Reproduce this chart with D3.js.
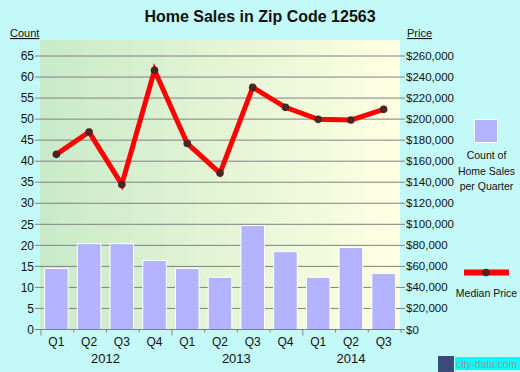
<!DOCTYPE html>
<html><head><meta charset="utf-8">
<script src="https://cdn.jsdelivr.net/npm/d3@7"></script>
<style>
body{margin:0;background:#c4f9f9;}
svg{display:block;font-family:Arial,"Liberation Sans",sans-serif;}
</style></head>
<body><svg id="c" width="520" height="372"></svg>
<script>
const quarters = ["Q1","Q2","Q3","Q4","Q1","Q2","Q3","Q4","Q1","Q2","Q3"];
const years = [{label:"2012", start:0, n:4},{label:"2013", start:4, n:4},{label:"2014", start:8, n:3}];
const counts = [14.5, 20.4, 20.4, 16.4, 14.5, 12.4, 24.7, 18.5, 12.4, 19.5, 13.3];
const prices = [166500, 187700, 137900, 246400, 176900, 148700, 230200, 211200, 199800, 199100, 209300];
const countTicks = [0,5,10,15,20,25,30,35,40,45,50,55,60,65];
const priceTicks = [0,20000,40000,60000,80000,100000,120000,140000,160000,180000,200000,220000,240000,260000];

const svg = d3.select("#c");
const L = 40, R = 400, T = 40, B = 329.5, Ytop = 56;

const defs = svg.append("defs");
const g = defs.append("linearGradient").attr("id","bg").attr("x1","0").attr("x2","1").attr("y1","0").attr("y2","0");
g.append("stop").attr("offset","0").attr("stop-color","#c8eac8");
g.append("stop").attr("offset","1").attr("stop-color","#ffffe2");

svg.append("rect").attr("x",L).attr("y",T).attr("width",R-L).attr("height",B-T).attr("fill","url(#bg)");

const x = d3.scaleBand().domain(d3.range(quarters.length)).range([L,R]).paddingInner(0.28).paddingOuter(0.14);
const y = d3.scaleLinear().domain([0,65]).range([B,Ytop]);
const yp = d3.scaleLinear().domain([0,260000]).range([B,Ytop]);

// grid
svg.append("g").selectAll("line").data(countTicks).join("line")
  .attr("x1",35).attr("x2",405).attr("y1",d=>y(d)).attr("y2",d=>y(d))
  .attr("stroke","#808080").attr("stroke-width",1);

// left axis labels
svg.append("g").selectAll("text").data(countTicks).join("text")
  .attr("x",34).attr("y",d=>y(d)).attr("dy","0.35em").attr("text-anchor","end")
  .attr("font-size",12).attr("fill","#111").text(d=>d);
// right axis labels
svg.append("g").selectAll("text").data(priceTicks).join("text")
  .attr("x",406).attr("y",d=>yp(d)).attr("dy","0.35em").attr("text-anchor","start")
  .attr("font-size",11.5).attr("fill","#111").text(d=>"$"+d3.format(",")(d));

// bars
svg.append("g").selectAll("rect").data(counts).join("rect")
  .attr("x",(d,i)=>x(i)).attr("width",x.bandwidth())
  .attr("y",d=>y(d)).attr("height",d=>B-y(d))
  .attr("fill","#b3b3ff").attr("stroke","#fff").attr("stroke-width",1);

// bottom axis
const bounds = d3.range(quarters.length+1).map(i=> L + i*(R-L)/quarters.length);
svg.append("line").attr("x1",L).attr("x2",R+5).attr("y1",B).attr("y2",B).attr("stroke","#808080");
svg.append("g").selectAll("line").data(bounds).join("line")
  .attr("x1",d=>d+1).attr("x2",d=>d+1).attr("y1",B)
  .attr("y2",(d,i)=> (i%4===0)?B+6:B+3)
  .attr("stroke","#808080");
svg.append("g").selectAll("text").data(quarters).join("text")
  .attr("x",(d,i)=>x(i)+x.bandwidth()/2).attr("y",346)
  .attr("text-anchor","middle").attr("font-size",12).attr("fill","#111").text(d=>d);
svg.append("g").selectAll("text").data(years).join("text")
  .attr("x",d=>(bounds[d.start]+bounds[d.start+d.n])/2).attr("y",363)
  .attr("text-anchor","middle").attr("font-size",13).attr("fill","#111").text(d=>d.label);

// line
const line = d3.line().x((d,i)=>x(i)+x.bandwidth()/2).y(d=>yp(d));
svg.append("path").datum(prices).attr("d",line).attr("fill","none")
  .attr("stroke","#ff0000").attr("stroke-width",5).attr("stroke-linejoin","miter");
svg.append("g").selectAll("circle").data(prices).join("circle")
  .attr("cx",(d,i)=>x(i)+x.bandwidth()/2).attr("cy",d=>yp(d)).attr("r",3.8).attr("fill","#4d2424");

// title
svg.append("text").attr("x",260).attr("y",22).attr("text-anchor","middle")
  .attr("font-size",16).attr("font-weight","bold").attr("fill","#111").text("Home Sales in Zip Code 12563");
svg.append("text").attr("x",10).attr("y",37).attr("font-size",11).attr("fill","#111")
  .attr("text-decoration","underline").text("Count");
svg.append("text").attr("x",407).attr("y",37).attr("font-size",11).attr("fill","#111")
  .attr("text-decoration","underline").text("Price");

// legend
svg.append("rect").attr("x",474.5).attr("y",119.5).attr("width",23).attr("height",23)
  .attr("fill","#b3b3ff").attr("stroke","#fff");
const lg = svg.append("g").attr("font-size",10.5).attr("fill","#111").attr("text-anchor","middle");
["Count of","Home Sales","per Quarter"].forEach((t,i)=>lg.append("text").attr("x",486.5).attr("y",159+i*15.5).text(t));
svg.append("line").attr("x1",464).attr("x2",509).attr("y1",272.5).attr("y2",272.5).attr("stroke","#ff0000").attr("stroke-width",6);
svg.append("circle").attr("cx",486).attr("cy",272.5).attr("r",3.8).attr("fill","#4d2424");
lg.append("text").attr("x",486.5).attr("y",297).text("Median Price");

// watermark
svg.append("rect").attr("x",438).attr("y",356).attr("width",16).attr("height",16).attr("fill","#3a4a7a");
svg.append("rect").attr("x",455).attr("y",357).attr("width",65).attr("height",13).attr("fill","#00ffff");
svg.append("text").attr("x",456).attr("y",367.5).attr("font-size",10.5).attr("fill","#999")
  .attr("textLength",61).attr("lengthAdjust","spacingAndGlyphs").text("city-data.com");
</script></body></html>
